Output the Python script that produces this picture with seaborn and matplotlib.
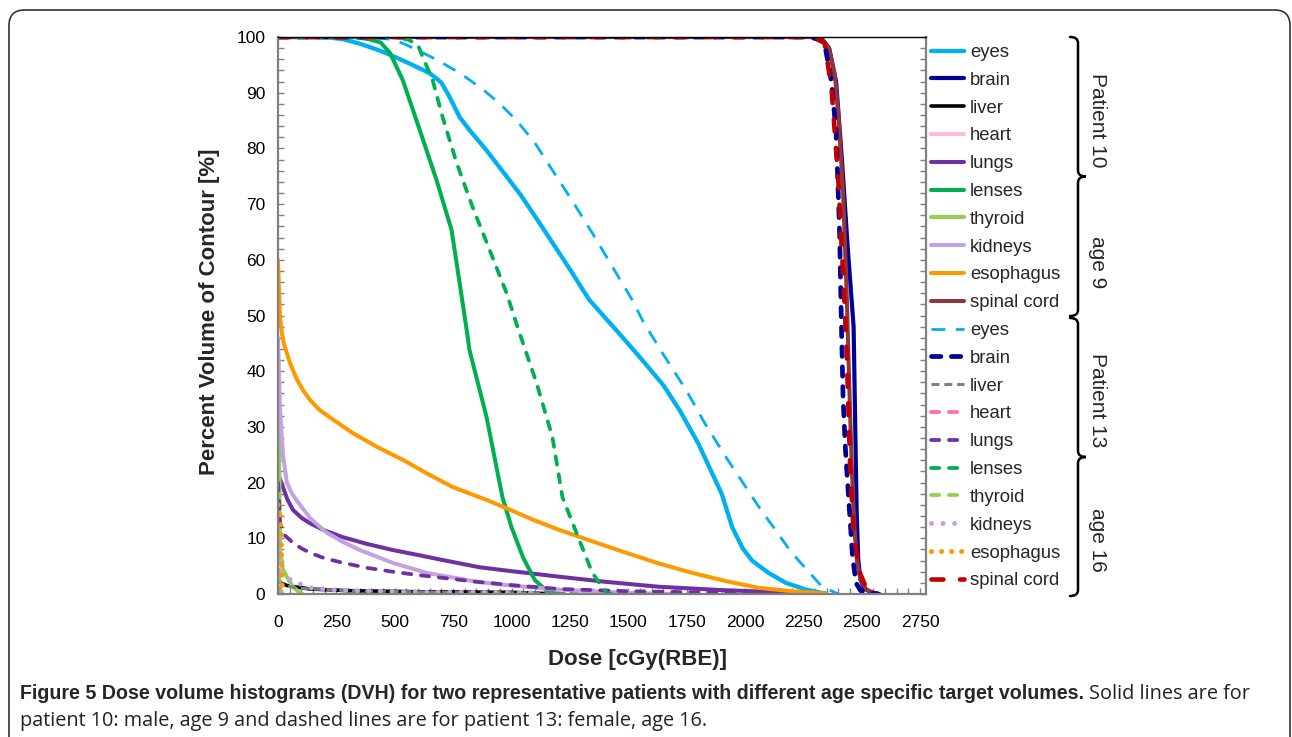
import matplotlib
matplotlib.use("Agg")
import matplotlib.pyplot as plt
import seaborn as sns
import numpy as np
import pandas as pd
from matplotlib.ticker import MultipleLocator
from matplotlib.patches import FancyBboxPatch, PathPatch
from matplotlib.path import Path

# ---------------- data ----------------
structures = ["eyes", "brain", "liver", "heart", "lungs", "lenses",
              "thyroid", "kidneys", "esophagus", "spinal cord"]
x_ticks = [0, 250, 500, 750, 1000, 1250, 1500, 1750, 2000, 2250, 2500, 2750]
y_ticks = [0, 10, 20, 30, 40, 50, 60, 70, 80, 90, 100]
group_labels = ["Patient 10", "age 9", "Patient 13", "age 16"]

# Patient 10 (solid)
eyes_p10_dose = [0, 200, 280, 350, 420, 480, 560, 650, 700, 735, 778, 820, 890, 960, 1040, 1120, 1250, 1333, 1450, 1560, 1650, 1720, 1760, 1800, 1850, 1900, 1945, 1990, 2030, 2100, 2175, 2260, 2340]
eyes_p10_vol = [100, 100, 99.6, 98.8, 97.8, 96.8, 95.3, 93.5, 91.8, 89.2, 85.6, 83.3, 79.8, 76, 71.6, 66.6, 58.3, 52.8, 47.3, 42, 37.5, 33, 30, 27, 22.5, 18, 12, 8.2, 6, 3.8, 2, 0.8, 0.1]
brain_p10_dose = [0, 2300, 2330, 2360, 2390, 2415, 2440, 2465, 2472, 2478, 2485, 2495, 2510, 2540, 2575]
brain_p10_vol = [100, 100, 99.6, 98, 92, 78, 62, 48, 30, 15, 6, 2.5, 1, 0.3, 0]
liver_p10_dose = [0, 10, 40, 137, 300, 600, 1000, 1200]
liver_p10_vol = [3, 2, 1.5, 0.9, 0.6, 0.4, 0.3, 0]
heart_p10_dose = [0, 5, 15]
heart_p10_vol = [5, 1, 0]
lungs_p10_dose = [0, 5, 21, 40, 64, 100, 137, 200, 278, 380, 491, 600, 705, 863, 1000, 1205, 1400, 1632, 1900, 2100, 2346]
lungs_p10_vol = [22, 21, 19.2, 17, 15.1, 13.7, 12.7, 11.4, 10.2, 9, 7.9, 7, 6.1, 4.8, 4.1, 3.1, 2.2, 1.3, 0.7, 0.4, 0.1]
lenses_p10_dose = [0, 330, 390, 440, 480, 534, 607, 679, 743, 765, 808, 820, 893, 961, 1000, 1050, 1100, 1150, 1200]
lenses_p10_vol = [100, 100, 99.6, 99, 97.1, 92.3, 83.3, 74.3, 65.4, 59.4, 47.4, 43.8, 31.8, 17.4, 12, 6.5, 2.5, 0.6, 0]
thyroid_p10_dose = [0, 3, 6, 9, 20, 38, 64, 94, 105]
thyroid_p10_vol = [38, 30, 20, 8, 4.5, 3.1, 1.3, 0.2, 0]
kidneys_p10_dose = [0, 4, 9, 21, 38, 60, 94, 140, 209, 280, 350, 491, 636, 850, 1000, 1200, 1500, 1700]
kidneys_p10_vol = [46, 40, 33, 25, 20, 18, 16, 13.5, 11, 9.3, 7.9, 5.6, 3.8, 2.2, 1.5, 0.8, 0.2, 0]
esophagus_p10_dose = [0, 4, 9, 16, 25, 51, 80, 107, 140, 179, 250, 320, 420, 534, 640, 748, 893, 1000, 1100, 1205, 1350, 1491, 1630, 1773, 1920, 2060, 2200, 2346]
esophagus_p10_vol = [60, 55, 49.7, 47, 45, 41.5, 38.6, 36.6, 34.7, 33, 30.9, 28.9, 26.5, 24.1, 21.6, 19.2, 16.9, 15, 13.2, 11.5, 9.4, 7.4, 5.5, 3.8, 2.3, 1.1, 0.5, 0.1]
spinal_p10_dose = [0, 2300, 2330, 2360, 2385, 2400, 2420, 2436, 2446, 2457, 2468, 2479, 2495, 2520, 2560]
spinal_p10_vol = [100, 100, 99.6, 98, 93, 86, 72, 53, 38, 23, 12, 6, 2.5, 0.8, 0]

# Patient 13 (dashed / dotted)
eyes_p13_dose = [0, 400, 500, 580, 680, 780, 880, 950, 1020, 1100, 1175, 1260, 1346, 1430, 1517, 1560, 1650, 1748, 1830, 1918, 2060, 2200, 2330, 2400]
eyes_p13_vol = [100, 100, 99.5, 98, 95.9, 93.5, 90.5, 88, 85.1, 81, 76.1, 70.6, 64.8, 58.9, 52.8, 49.2, 43, 36.6, 30.5, 24.6, 15.6, 7.4, 1.3, 0]
brain_p13_dose = [0, 2280, 2310, 2340, 2370, 2390, 2405, 2412, 2420, 2430, 2444, 2460, 2475, 2495, 2530, 2570]
brain_p13_vol = [100, 100, 99.6, 99, 92, 83, 65, 50, 35, 26, 17, 7, 2, 0.6, 0.2, 0]
liver_p13_dose = [0, 20, 100, 300, 700, 1100, 1300]
liver_p13_vol = [2.5, 1.5, 1, 0.6, 0.3, 0.2, 0]
heart_p13_dose = [0, 3, 6, 10, 20]
heart_p13_vol = [14, 6, 2, 0.5, 0]
lungs_p13_dose = [0, 9, 30, 64, 100, 137, 200, 278, 380, 491, 600, 705, 850, 1000, 1205, 1500, 1800, 2030]
lungs_p13_vol = [20, 12.7, 10.5, 9.2, 8.2, 7.4, 6.4, 5.6, 4.7, 4.0, 3.4, 2.9, 2.2, 1.6, 0.9, 0.5, 0.3, 0.2]
lenses_p13_dose = [0, 500, 560, 600, 620, 662, 705, 765, 833, 906, 979, 1026, 1107, 1175, 1218, 1278, 1346, 1406, 1430]
lenses_p13_vol = [100, 100, 99.5, 98.5, 96.4, 92.3, 85.6, 77.4, 69.5, 61.8, 54, 47.9, 37.9, 28.2, 17.4, 11, 3.8, 0.2, 0]
thyroid_p13_dose = [0, 5, 10, 20]
thyroid_p13_vol = [7, 3, 1, 0]
kidneys_p13_dose = [0, 5, 10, 30, 70, 140, 250, 500, 800, 1100]
kidneys_p13_vol = [10, 6, 3.8, 3.1, 2.2, 1.1, 0.7, 0.4, 0.3, 0.2]
esophagus_p13_dose = [0, 10, 14, 16, 18, 22]
esophagus_p13_vol = [16, 14, 10, 6, 2, 0]
spinal_p13_dose = [0, 2280, 2310, 2340, 2370, 2400, 2425, 2435, 2450, 2465, 2490, 2520, 2560]
spinal_p13_vol = [100, 100, 99.6, 99, 91, 74, 53, 44, 23, 11, 4, 1, 0]

# ---------------- styles ----------------
colors_p10 = ["#00B0F0", "#000099", "#000000", "#FFBBDD", "#7030A0", "#00B050",
              "#92D050", "#C4A2E2", "#FF9900", "#943634"]
colors_p13 = ["#00B0F0", "#000099", "#808080", "#FF6FA8", "#7030A0", "#00B050",
              "#92D050", "#C4A2E2", "#FF9900", "#C00000"]

series_p10 = [(eyes_p10_dose, eyes_p10_vol), (brain_p10_dose, brain_p10_vol),
              (liver_p10_dose, liver_p10_vol), (heart_p10_dose, heart_p10_vol),
              (lungs_p10_dose, lungs_p10_vol), (lenses_p10_dose, lenses_p10_vol),
              (thyroid_p10_dose, thyroid_p10_vol), (kidneys_p10_dose, kidneys_p10_vol),
              (esophagus_p10_dose, esophagus_p10_vol), (spinal_p10_dose, spinal_p10_vol)]
series_p13 = [(eyes_p13_dose, eyes_p13_vol), (brain_p13_dose, brain_p13_vol),
              (liver_p13_dose, liver_p13_vol), (heart_p13_dose, heart_p13_vol),
              (lungs_p13_dose, lungs_p13_vol), (lenses_p13_dose, lenses_p13_vol),
              (thyroid_p13_dose, thyroid_p13_vol), (kidneys_p13_dose, kidneys_p13_vol),
              (esophagus_p13_dose, esophagus_p13_vol), (spinal_p13_dose, spinal_p13_vol)]

lw_p10 = [3.1, 3.0, 2.6, 2.9, 2.9, 2.9, 2.9, 2.9, 2.9, 2.9]
style_p13 = [
    dict(lw=2.0, linestyle=(0, (5.0, 3.8)), dash_capstyle="butt"),        # eyes
    dict(lw=3.4, linestyle=(0, (2.0, 2.2)), dash_capstyle="round"),       # brain
    dict(lw=2.2, linestyle=(0, (2.6, 1.6)), dash_capstyle="butt"),        # liver
    dict(lw=2.7, linestyle=(0, (2.2, 2.6)), dash_capstyle="round"),       # heart
    dict(lw=2.7, linestyle=(0, (2.2, 2.6)), dash_capstyle="round"),       # lungs
    dict(lw=2.7, linestyle=(0, (2.2, 2.6)), dash_capstyle="round"),       # lenses
    dict(lw=2.7, linestyle=(0, (2.2, 2.6)), dash_capstyle="round"),       # thyroid
    dict(lw=3.6, linestyle=(0, (0.01, 2.3)), dash_capstyle="round"),      # kidneys
    dict(lw=3.6, linestyle=(0, (0.01, 2.0)), dash_capstyle="round"),      # esophagus
    dict(lw=3.3, linestyle=(0, (2.6, 3.6)), dash_capstyle="round"),       # spinal cord
]

# ---------------- figure ----------------
sns.set_style("white")
plt.rcParams["font.family"] = ["Liberation Sans", "DejaVu Sans"]

W, H = 1292, 737
fig = plt.figure(figsize=(W / 100, H / 100), dpi=100)
L, R, T, B = 278, 926, 37, 594
ax = fig.add_axes([L / W, 1 - B / H, (R - L) / W, (B - T) / H])


def fx(px):
    return px / W


def fy(py):
    return 1 - py / H


for (d, v), c, lw, name in zip(series_p10, colors_p10, lw_p10, structures):
    sns.lineplot(x=d, y=v, ax=ax, color=c, lw=lw, sort=False, estimator=None,
                 label=name, solid_capstyle="round", solid_joinstyle="round")
for (d, v), c, st, name in zip(series_p13, colors_p13, style_p13, structures):
    sns.lineplot(x=d, y=v, ax=ax, color=c, sort=False, estimator=None,
                 label=name, **st)

ax.set_xlim(0, 2775)
ax.set_ylim(0, 100)
ax.set_xticks(x_ticks)
ax.set_yticks(y_ticks)
ax.xaxis.set_minor_locator(MultipleLocator(50))
ax.yaxis.set_minor_locator(MultipleLocator(2))
ax.tick_params(which="both", direction="in", length=4, width=1.0, color="#808080",
               labelcolor="black", labelsize=12.5, right=True, top=False,
               bottom=True, left=True)
ax.tick_params(axis="y", pad=9)
ax.tick_params(axis="x", pad=15)
for s in ["left", "bottom", "right"]:
    ax.spines[s].set_color("#808080")
    ax.spines[s].set_linewidth(1.6)
ax.spines["top"].set_color("black")
ax.spines["top"].set_linewidth(1.0)

ax.set_xlabel("Dose [cGy(RBE)]", fontsize=16, fontweight="bold")
ax.set_ylabel("Percent Volume of Contour [%]", fontsize=16, fontweight="bold")
ax.xaxis.set_label_coords((637 - L) / (R - L), -(660 - B) / (B - T))
ax.xaxis.label.set_va("center")
ax.yaxis.set_label_coords((210 - L) / (R - L), (B - 312) / (B - T))
ax.yaxis.label.set_va("center")

handles = ax.get_lines()
labels = [h.get_label() for h in handles]
leg = ax.legend(handles, labels, loc="upper left",
                bbox_to_anchor=(fx(931), fy(44)), bbox_transform=fig.transFigure,
                frameon=False, fontsize=13.3, handlelength=1.8, handletextpad=0.3,
                labelspacing=0.585, borderpad=0.0, borderaxespad=0.0)

# braces
def brace(top, bottom, x=1078, hook=8, tip=8):
    mid = (top + bottom) / 2
    pts = [(x - hook, top), (x, top), (x, top + 6),
           (x, mid - 6), (x, mid), (x + tip, mid),
           (x, mid), (x, mid + 6),
           (x, bottom - 6), (x, bottom), (x - hook, bottom)]
    codes = [Path.MOVETO, Path.CURVE3, Path.CURVE3,
             Path.LINETO, Path.CURVE3, Path.CURVE3,
             Path.CURVE3, Path.CURVE3,
             Path.LINETO, Path.CURVE3, Path.CURVE3]
    verts = [(fx(a), fy(b)) for a, b in pts]
    fig.add_artist(PathPatch(Path(verts, codes), transform=fig.transFigure,
                             fill=False, lw=1.8, color="black", capstyle="round"))


brace(37, 316)
brace(318, 596)
for lbl, yc in zip(group_labels, [120, 262, 400, 540]):
    fig.text(fx(1097), fy(yc), lbl, rotation=-90, ha="center", va="center",
             fontsize=15)

# frame
fig.add_artist(FancyBboxPatch((fx(9), fy(760)), fx(1290) - fx(9), fy(10) - fy(760),
                              boxstyle="round,pad=0,rounding_size=0.012",
                              transform=fig.transFigure, fill=False,
                              lw=1.2, ec="#333333", mutation_aspect=W / H))

# caption
bold_font = ["Liberation Sans", "DejaVu Sans"]
norm_font = ["Open Sans", "Liberation Sans", "DejaVu Sans"]
t1 = fig.text(fx(20), fy(699), "Figure 5 Dose volume histograms (DVH) for two representative "
              "patients with different age specific target volumes.",
              fontsize=14.1, fontweight="bold", family=bold_font, va="baseline")
fig.canvas.draw()
bb = t1.get_window_extent()
fig.text(bb.x1 / W + fx(5), fy(699), "Solid lines are for", fontsize=14.3,
         family=norm_font, va="baseline", color="#222222")
fig.text(fx(20), fy(726), "patient 10: male, age 9 and dashed lines are for patient 13: "
         "female, age 16.", fontsize=14.3, family=norm_font, va="baseline",
         color="#222222")

fig.savefig("out.png", dpi=100)
